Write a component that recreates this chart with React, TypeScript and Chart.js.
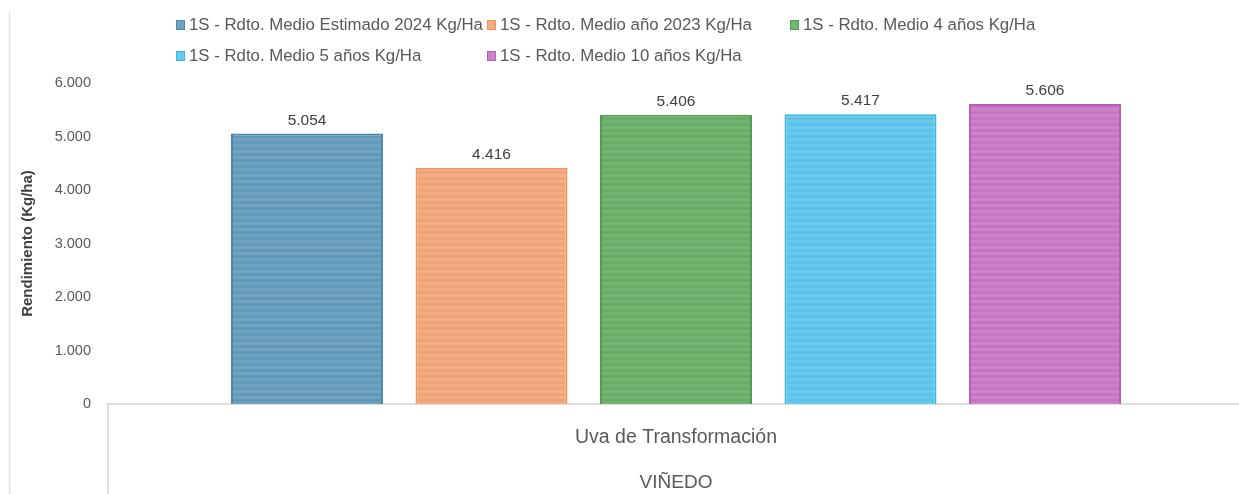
import React, { useEffect, useRef } from "react";
import { Chart, registerables } from "chart.js";

Chart.register(...registerables);

const categories = ["Uva de Transformación"];
const groupLabel = "VIÑEDO";
const yAxisTitle = "Rendimiento (Kg/ha)";
const seriesNames = [
  "1S - Rdto. Medio Estimado 2024 Kg/Ha",
  "1S - Rdto. Medio año 2023 Kg/Ha",
  "1S - Rdto. Medio 4 años Kg/Ha",
  "1S - Rdto. Medio 5 años Kg/Ha",
  "1S - Rdto. Medio 10 años Kg/Ha",
];
const seriesValues = [5054, 4416, 5406, 5417, 5606];
const yMin = 0;
const yMax = 6000;
const yStep = 1000;

const lightColors = ["#6ea4c2", "#f4ad82", "#73b673", "#68caec", "#cd82ca"];
const darkColors = ["#6399b8", "#efa276", "#67ac67", "#5cc2e8", "#c575c2"];
const borderColors = ["#4f87a9", "#eb945f", "#519c51", "#40b5e0", "#b85cb4"];

const FONT = "'Liberation Sans', Arial, sans-serif";

function fmt(n: number): string {
  return String(n).replace(/\B(?=(\d{3})+(?!\d))/g, ".");
}

function makePattern(light: string, dark: string): CanvasPattern | string {
  const c = document.createElement("canvas");
  c.width = 4;
  c.height = 6;
  const ctx = c.getContext("2d");
  if (!ctx) return light;
  ctx.fillStyle = light;
  ctx.fillRect(0, 0, 4, 6);
  ctx.fillStyle = dark;
  ctx.fillRect(0, 3, 4, 3);
  const p = ctx.createPattern(c, "repeat");
  return p || light;
}

const decorPlugin = {
  id: "decor",
  beforeDraw(chart: any) {
    const { ctx, chartArea } = chart;
    ctx.save();
    ctx.fillStyle = "#ffffff";
    ctx.fillRect(0, 0, chart.width, chart.height);
    ctx.strokeStyle = "#e3e3e3";
    ctx.lineWidth = 1.5;
    ctx.beginPath();
    ctx.moveTo(9.5, 11);
    ctx.lineTo(9.5, chart.height);
    ctx.stroke();
    ctx.strokeStyle = "#d4d4d4";
    ctx.lineWidth = 1.5;
    ctx.beginPath();
    ctx.moveTo(chartArea.left, chart.height);
    ctx.lineTo(chartArea.left, chartArea.bottom);
    ctx.lineTo(chart.width, chartArea.bottom);
    ctx.stroke();
    ctx.restore();
  },
  afterDatasetsDraw(chart: any) {
    const { ctx } = chart;
    ctx.save();
    ctx.font = `15.5px ${FONT}`;
    ctx.fillStyle = "#404040";
    ctx.textAlign = "center";
    ctx.textBaseline = "middle";
    chart.data.datasets.forEach((ds: any, i: number) => {
      const meta = chart.getDatasetMeta(i);
      const el = meta.data[0];
      if (!el) return;
      ctx.fillText(fmt(ds.data[0]), el.x, el.y - 13);
    });
    ctx.restore();
  },
  afterDraw(chart: any) {
    const { ctx } = chart;
    const colX = [176, 487, 790];
    const rowY = [25, 56];
    const order = [
      [0, 0],
      [1, 0],
      [2, 0],
      [0, 1],
      [1, 1],
    ];
    ctx.save();
    ctx.font = `16.8px ${FONT}`;
    ctx.textBaseline = "middle";
    ctx.textAlign = "left";
    chart.data.datasets.forEach((ds: any, i: number) => {
      const [c, r] = order[i];
      const x = colX[c];
      const y = rowY[r];
      ctx.fillStyle = lightColors[i];
      ctx.fillRect(x, y - 5, 9, 10);
      ctx.strokeStyle = borderColors[i];
      ctx.lineWidth = 1;
      ctx.strokeRect(x + 0.5, y - 4.5, 8, 9);
      ctx.fillStyle = "#595959";
      ctx.fillText(ds.label, x + 13, y);
    });
    ctx.restore();
  },
};

export default function App() {
  const ref = useRef<HTMLCanvasElement | null>(null);

  useEffect(() => {
    if (!ref.current) return;
    const datasets = seriesNames.map((name, i) => ({
      label: name,
      data: [seriesValues[i]],
      backgroundColor: makePattern(lightColors[i], darkColors[i]),
      borderColor: borderColors[i],
      borderWidth: 2,
      categoryPercentage: 0.812,
      barPercentage: 0.824,
    }));
    const chart = new Chart(ref.current, {
      type: "bar",
      data: { labels: categories, datasets },
      plugins: [decorPlugin],
      options: {
        responsive: false,
        animation: false,
        layout: { padding: { left: 10, top: 83, right: 0, bottom: 0 } },
        plugins: {
          legend: { display: false },
          tooltip: { enabled: false },
          title: { display: false },
        },
        scales: {
          x: {
            grid: { display: false, drawTicks: false },
            border: { display: false },
            ticks: {
              color: "#595959",
              font: { family: FONT, size: 19.5 },
              padding: 22,
            },
            title: {
              display: true,
              text: groupLabel,
              color: "#595959",
              font: { family: FONT, size: 19 },
              padding: { top: 0, bottom: 0 },
            },
            afterFit(scale: any) {
              scale.height = 90;
            },
          },
          y: {
            min: yMin,
            max: yMax,
            grid: { display: false, drawTicks: false },
            border: { display: false },
            ticks: {
              stepSize: yStep,
              color: "#595959",
              font: { family: FONT, size: 14.5 },
              padding: 17,
              callback: (v: any) => fmt(Number(v)),
            },
            title: {
              display: true,
              text: yAxisTitle,
              color: "#404040",
              font: { family: FONT, size: 15, weight: "bold" },
              padding: { top: 9, bottom: 0 },
            },
            afterFit(scale: any) {
              scale.width = 98;
            },
          },
        },
      },
    });
    return () => chart.destroy();
  }, []);

  return (
    <div
      style={{
        position: "absolute",
        left: 0,
        top: 0,
        width: 1239,
        height: 494,
        overflow: "hidden",
        background: "#ffffff",
      }}
    >
      <canvas ref={ref} width={1244} height={494} style={{ display: "block" }} />
    </div>
  );
}
